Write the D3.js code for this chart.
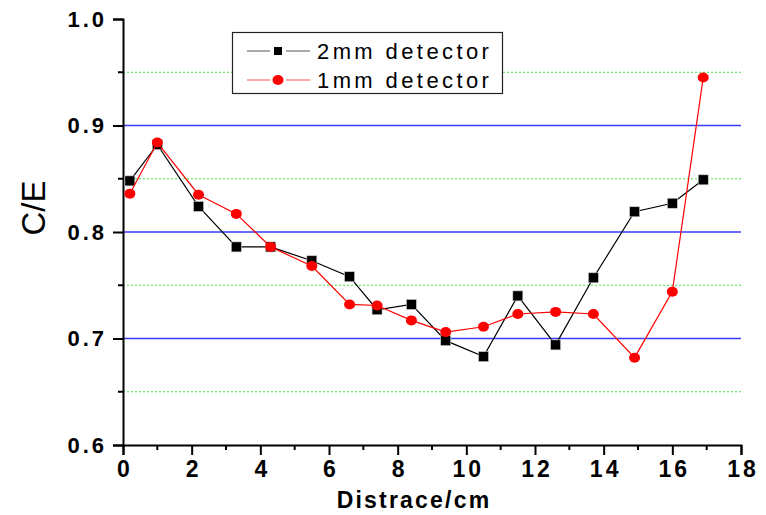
<!DOCTYPE html>
<html>
<head>
<meta charset="utf-8">
<script src="https://cdn.jsdelivr.net/npm/d3@7"></script>
<style>
  body { margin: 0; background: #fff; }
  svg { display: block; }
</style>
</head>
<body>
<div id="container"></div>
<script>
/* DATA */
const distance = [0.2, 1.0, 2.2, 3.3, 4.3, 5.5, 6.6, 7.4, 8.4, 9.4, 10.5, 11.5, 12.6, 13.7, 14.9, 16.0, 16.9];
const det2mm = [0.848, 0.882, 0.824, 0.786, 0.786, 0.773, 0.758, 0.727, 0.732, 0.698, 0.683, 0.740, 0.694, 0.757, 0.819, 0.827, 0.849];
const det1mm = [0.836, 0.884, 0.835, 0.817, 0.786, 0.768, 0.732, 0.731, 0.717, 0.706, 0.711, 0.723, 0.725, 0.723, 0.682, 0.744, 0.945];
const xTicks = [0, 2, 4, 6, 8, 10, 12, 14, 16, 18];
const yTicks = [0.6, 0.7, 0.8, 0.9, 1.0];
const yMinor = [0.65, 0.75, 0.85, 0.95];
const seriesNames = ["2mm detector", "1mm detector"];

/* CONSTANTS */
const width = 766, height = 515;
const margin = {top: 19, bottom: 70, left: 123, right: 25};
const font = "'Liberation Sans', Arial, sans-serif";

const svg = d3.select("#container")
  .append("svg")
  .attr("width", width)
  .attr("height", height);

const xScale = d3.scaleLinear()
  .domain([0, 18])
  .range([margin.left, width - margin.right]);

const yScale = d3.scaleLinear()
  .domain([0.6, 1.0])
  .range([height - margin.bottom, margin.top]);

// gridlines: blue solid on major, green dotted on minor
svg.append("g")
  .selectAll("line")
  .data([0.7, 0.8, 0.9])
  .join("line")
  .attr("x1", xScale(0)).attr("x2", xScale(18))
  .attr("y1", d => yScale(d)).attr("y2", d => yScale(d))
  .attr("stroke", "#3a3af5")
  .attr("stroke-width", 1.3);

svg.append("g")
  .selectAll("line")
  .data(yMinor)
  .join("line")
  .attr("x1", xScale(0)).attr("x2", xScale(18))
  .attr("y1", d => yScale(d)).attr("y2", d => yScale(d))
  .attr("stroke", "#44e044")
  .attr("stroke-width", 1)
  .attr("stroke-dasharray", "2,2");

// axes
const xAxis = d3.axisBottom(xScale).tickValues(xTicks).tickFormat(d3.format("d")).tickSize(10).tickPadding(6);
const yAxis = d3.axisLeft(yScale).tickValues(yTicks).tickFormat(d3.format(".1f")).tickSize(10).tickPadding(6);

const gx = svg.append("g")
  .attr("transform", `translate(0,${yScale(0.6)})`)
  .call(xAxis);

const gy = svg.append("g")
  .attr("transform", `translate(${xScale(0)},0)`)
  .call(yAxis);

[gx, gy].forEach(g => {
  g.select(".domain").attr("stroke", "#000").attr("stroke-width", 2);
  g.selectAll(".tick line").attr("stroke", "#000").attr("stroke-width", 2);
  g.selectAll(".tick text")
    .attr("fill", "#000")
    .style("font-family", font)
    .style("font-weight", "bold")
    .style("letter-spacing", "3px");
});
gx.selectAll(".tick text").style("font-size", "23px").attr("dx", "1.5px");
gy.selectAll(".tick text").style("font-size", "22px");

// minor ticks
svg.append("g")
  .selectAll("line")
  .data(d3.range(1, 18, 2))
  .join("line")
  .attr("x1", d => xScale(d)).attr("x2", d => xScale(d))
  .attr("y1", yScale(0.6)).attr("y2", yScale(0.6) + 5)
  .attr("stroke", "#000").attr("stroke-width", 2);

svg.append("g")
  .selectAll("line")
  .data(yMinor)
  .join("line")
  .attr("x1", xScale(0) - 5).attr("x2", xScale(0))
  .attr("y1", d => yScale(d)).attr("y2", d => yScale(d))
  .attr("stroke", "#000").attr("stroke-width", 2);

// axis titles
svg.append("text")
  .attr("x", 414)
  .attr("y", 508)
  .attr("text-anchor", "middle")
  .style("font-family", font)
  .style("font-weight", "bold")
  .style("font-size", "23px")
  .style("letter-spacing", "2.2px")
  .text("Distrace/cm");

svg.append("text")
  .attr("transform", "translate(45,208) rotate(-90)")
  .attr("text-anchor", "middle")
  .style("font-family", font)
  .style("font-size", "33px")
  .text("C/E");

// series
const series = [
  {name: seriesNames[0], values: det2mm, color: "#000", shape: "square"},
  {name: seriesNames[1], values: det1mm, color: "#ff0000", shape: "circle"}
];

const line = d3.line()
  .x((d, i) => xScale(distance[i]))
  .y(d => yScale(d));

series.forEach(s => {
  svg.append("path")
    .datum(s.values)
    .attr("fill", "none")
    .attr("stroke", s.color)
    .attr("stroke-width", 1.2)
    .attr("d", line);

  if (s.shape === "square") {
    svg.append("g")
      .selectAll("rect")
      .data(s.values)
      .join("rect")
      .attr("x", (d, i) => xScale(distance[i]) - 5)
      .attr("y", d => yScale(d) - 5)
      .attr("width", 10).attr("height", 10)
      .attr("fill", s.color)
      .attr("stroke", "#ccc").attr("stroke-width", 0.6);
  } else {
    svg.append("g")
      .selectAll("ellipse")
      .data(s.values)
      .join("ellipse")
      .attr("cx", (d, i) => xScale(distance[i]))
      .attr("cy", d => yScale(d))
      .attr("rx", 5.5).attr("ry", 5)
      .attr("fill", s.color);
  }
});

// legend
const legend = svg.append("g");
legend.append("rect")
  .attr("x", 232.5).attr("y", 32.5)
  .attr("width", 270).attr("height", 61)
  .attr("fill", "#fff")
  .attr("stroke", "#222").attr("stroke-width", 1.2);

series.forEach((s, i) => {
  const y = 51 + i * 29;
  legend.append("line")
    .attr("x1", 247).attr("x2", 310)
    .attr("y1", y).attr("y2", y)
    .attr("stroke", i === 0 ? "#555" : "#ff5555")
    .attr("stroke-width", 1);
  legend.append("rect")
    .attr("x", 270).attr("y", y - 8)
    .attr("width", 16).attr("height", 16)
    .attr("fill", "#fff");
  if (s.shape === "square") {
    legend.append("rect")
      .attr("x", 274).attr("y", y - 4)
      .attr("width", 8).attr("height", 8)
      .attr("fill", s.color);
  } else {
    legend.append("ellipse")
      .attr("cx", 278).attr("cy", y)
      .attr("rx", 5.5).attr("ry", 5)
      .attr("fill", s.color);
  }
  legend.append("text")
    .attr("x", 317)
    .attr("y", y + 8)
    .style("font-family", font)
    .style("font-size", "22px")
    .style("letter-spacing", "3.4px")
    .text(s.name);
});
</script>
</body>
</html>
